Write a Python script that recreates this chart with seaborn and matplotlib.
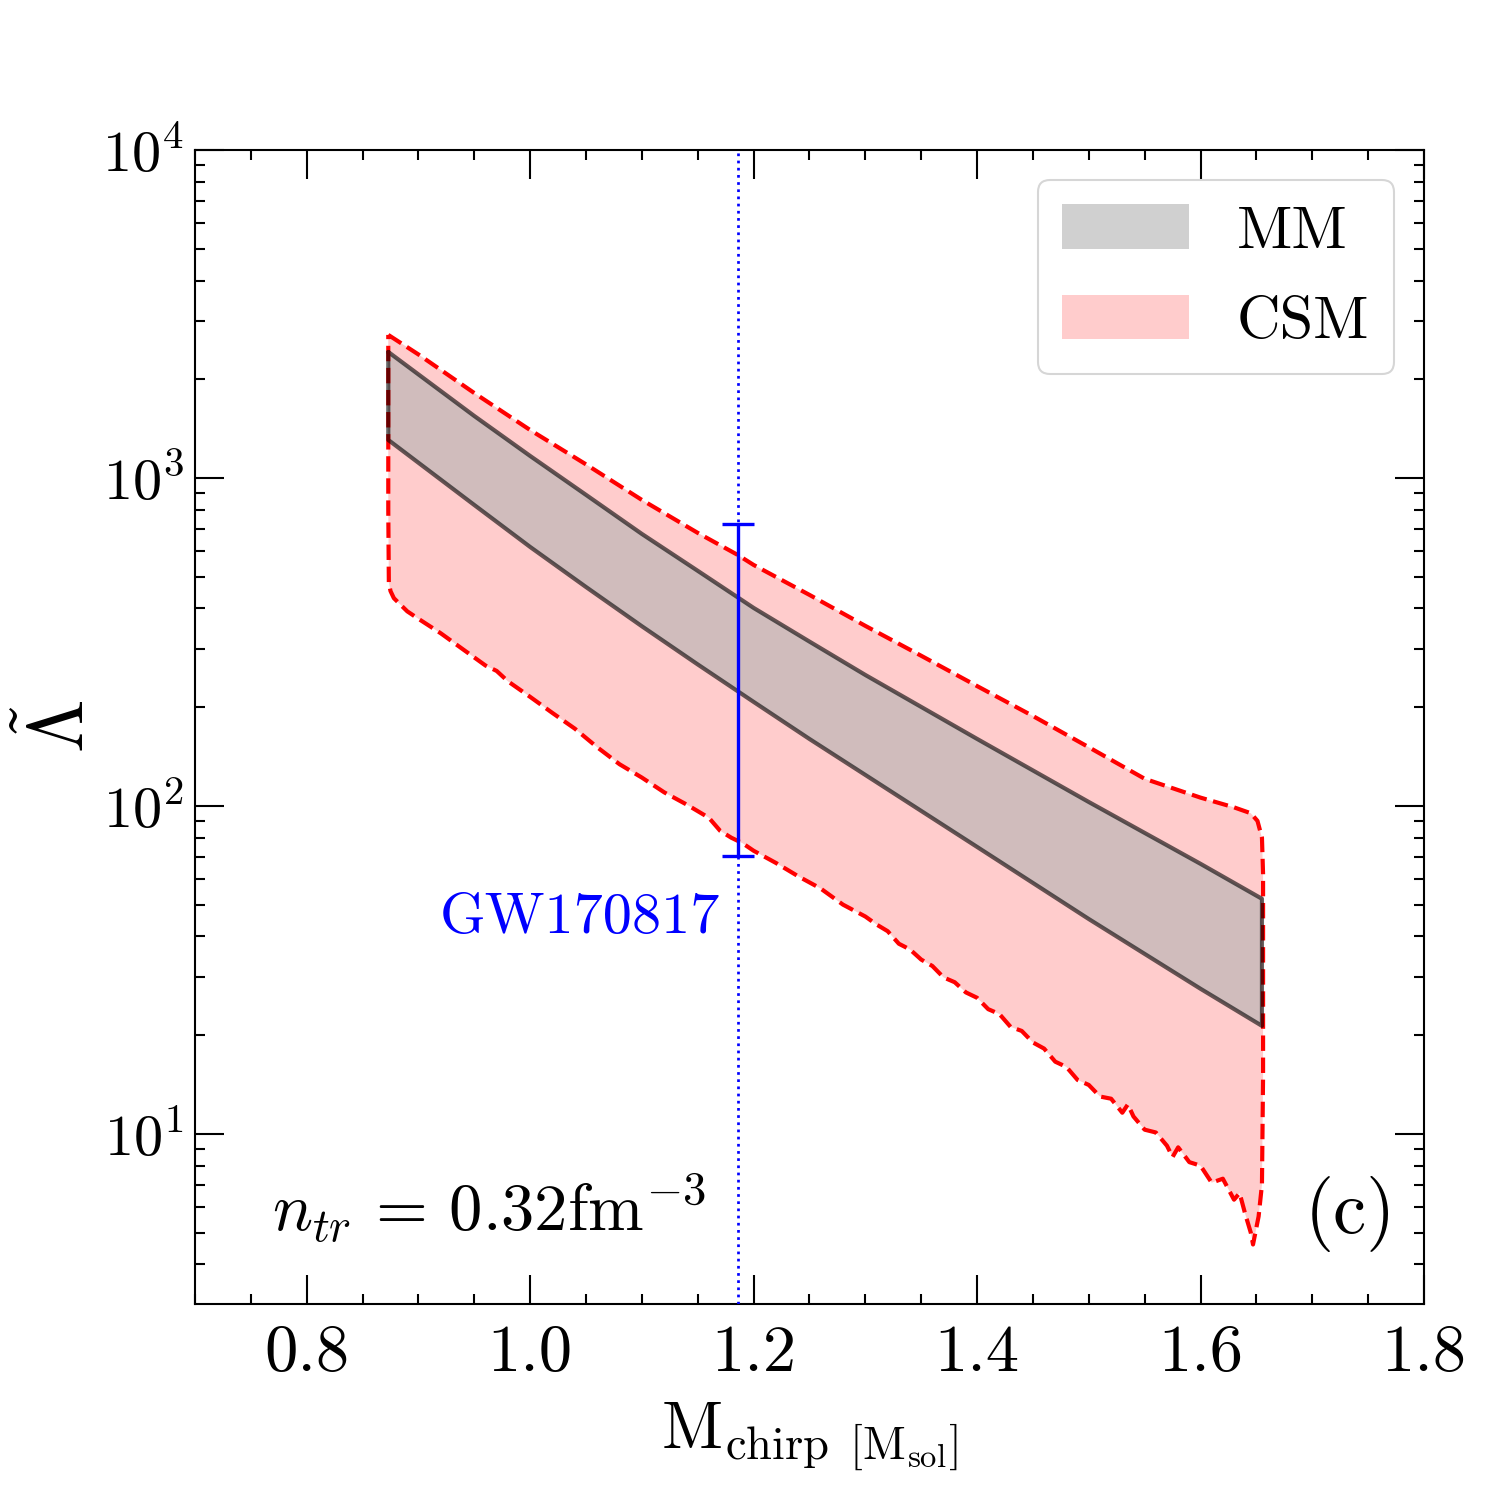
import numpy as np
import pandas as pd
import matplotlib
matplotlib.use("Agg")
import matplotlib.pyplot as plt
import seaborn as sns
from matplotlib.patches import Patch
from matplotlib.ticker import MultipleLocator, LogLocator, NullFormatter

# ---------------- data ----------------
mm_x = [0.873, 0.95, 1.0, 1.05, 1.1, 1.15, 1.2, 1.25, 1.3, 1.4, 1.5, 1.6, 1.655]
mm_upper = [2422, 1545, 1167, 888, 675, 521, 401.6, 317, 250.8, 160.1, 102.8, 66.6, 52.1]
mm_lower = [1306, 827, 616, 465, 353, 270, 207.6, 160, 124.3, 75, 45.2, 27.7, 21.35]

csm_upper_x = [0.873, 0.90, 0.95, 1.00, 1.05, 1.10, 1.15, 1.186, 1.20, 1.25, 1.30,
               1.35, 1.40, 1.45, 1.50, 1.55, 1.60, 1.63, 1.645, 1.651, 1.655, 1.656]
csm_upper_y = [2730, 2380, 1815, 1400, 1100, 857, 680, 582, 543, 440, 354,
               287, 232, 188, 151, 121, 106, 99, 95, 90, 80, 62]

csm_lower_x = [0.873, 0.8735, 0.875, 0.878, 0.89, 0.90, 0.92, 0.94, 0.96, 0.97, 0.98,
               1.00, 1.02, 1.04, 1.06, 1.08, 1.10, 1.12, 1.14, 1.16, 1.17, 1.18,
               1.19, 1.20, 1.22, 1.24, 1.26, 1.28, 1.30, 1.31, 1.32, 1.33, 1.34,
               1.35, 1.36, 1.37, 1.38, 1.39, 1.40, 1.41, 1.42, 1.43, 1.44, 1.45,
               1.46, 1.47, 1.48, 1.49, 1.50, 1.51, 1.52, 1.53, 1.535, 1.54, 1.55,
               1.56, 1.57, 1.575, 1.58, 1.59, 1.60, 1.61, 1.62, 1.63, 1.635, 1.64,
               1.645, 1.647, 1.652, 1.655, 1.656]
csm_lower_y = [800, 480, 452, 430, 392, 372, 336, 300, 268, 258, 240,
               215, 192, 172, 151, 134, 122, 110, 101, 92, 84, 80,
               77, 73, 67, 61, 56, 50, 46, 43.5, 41.5, 38, 36.5,
               34, 32.5, 30, 29, 27, 26, 24, 23.2, 21.2, 20.6, 19.0,
               18.2, 16.6, 16.0, 14.6, 14.1, 13.0, 12.8, 11.6, 12.3, 11.3, 10.3,
               10.1, 9.2, 8.5, 9.1, 8.2, 8.0, 7.1, 7.3, 6.3, 6.6, 5.7,
               5.0, 4.6, 5.6, 7.0, 15]

gw_x = 1.186
gw_low = 70.4
gw_high = 724
gw_center = 225

x_ticks = [0.8, 1.0, 1.2, 1.4, 1.6, 1.8]
x_tick_labels = ["0.8", "1.0", "1.2", "1.4", "1.6", "1.8"]

# ---------------- style ----------------
sns.set_theme(style="ticks")
plt.rcParams["font.family"] = ["cmr10", "DejaVu Serif"]
plt.rcParams["mathtext.fontset"] = "cm"
plt.rcParams["axes.formatter.use_mathtext"] = True
plt.rcParams["axes.unicode_minus"] = False
for k in ["text.color", "axes.labelcolor", "xtick.color", "ytick.color",
          "axes.edgecolor", "xtick.labelcolor", "ytick.labelcolor"]:
    plt.rcParams[k] = "black"

fig = plt.figure(figsize=(10, 10), dpi=150)
ax = fig.add_axes([0.13, 0.1307, 0.8193, 0.7693])

# CSM polygon (upper left->right, lower right->left)
poly_x = list(csm_upper_x) + list(csm_lower_x[::-1])
poly_y = list(csm_upper_y) + list(csm_lower_y[::-1])
poly_x.append(poly_x[0])
poly_y.append(poly_y[0])
ax.fill(poly_x, poly_y, color=(1.0, 0.8, 0.8), lw=0, zorder=1)
csm_df = pd.DataFrame({"x": poly_x, "y": poly_y})
sns.lineplot(data=csm_df, x="x", y="y", sort=False, estimator=None, ax=ax,
             color="red", linestyle="--", lw=2.0, zorder=3)

# MM polygon
mm_px = list(mm_x) + list(mm_x[::-1]) + [mm_x[0]]
mm_py = list(mm_upper) + list(mm_lower[::-1]) + [mm_upper[0]]
ax.fill(mm_px, mm_py, color="#b2b2b2", alpha=0.61, lw=0, zorder=2)
mm_df = pd.DataFrame({"x": mm_px, "y": mm_py})
sns.lineplot(data=mm_df, x="x", y="y", sort=False, estimator=None, ax=ax,
             color="black", alpha=0.6, lw=2.0, zorder=4)

# GW170817
ax.axvline(gw_x, color="blue", ls=":", lw=1.3, zorder=5)
ax.errorbar([gw_x], [gw_center], yerr=[[gw_center - gw_low], [gw_high - gw_center]],
            fmt="none", ecolor="blue", elinewidth=1.6, capsize=7.5, capthick=1.6, zorder=6)
ax.text(1.17, 45.5, "GW170817", color="blue", fontsize=28, ha="right", va="center")

ax.text(0.063, 0.083, r"$n_{tr}\, =\, 0.32\mathrm{fm}^{-3}$", transform=ax.transAxes,
        fontsize=32, ha="left", va="center")
ax.text(0.977, 0.078, "(c)", transform=ax.transAxes, fontsize=36, ha="right", va="center")

# axes
ax.set_yscale("log")
ax.set_xlim(0.7, 1.8)
ax.set_ylim(3.03, 1e4)
ax.set_xticks(x_ticks)
ax.set_xticklabels(x_tick_labels)
ax.xaxis.set_minor_locator(MultipleLocator(0.05))
ax.yaxis.set_major_locator(LogLocator(base=10, numticks=10))
ax.yaxis.set_minor_locator(LogLocator(base=10, subs=np.arange(2, 10), numticks=20))
ax.yaxis.set_minor_formatter(NullFormatter())
ax.tick_params(which="both", direction="in", top=True, right=True)
ax.tick_params(axis="x", labelsize=32, pad=10)
ax.tick_params(axis="y", labelsize=28, pad=5)
ax.tick_params(which="major", length=14, width=1.0)
ax.tick_params(which="minor", length=5, width=1.0)
for s in ax.spines.values():
    s.set_linewidth(1.0)
    s.set_color("black")

ax.set_xlabel(r"$\mathrm{M_{chirp\ \,[M_{sol}]}}$", fontsize=32, labelpad=8)
ax.set_ylabel(r"$\tilde{\Lambda}$", fontsize=37)
ax.yaxis.set_label_coords(-0.078, 0.5)

handles = [Patch(facecolor="#b2b2b2", alpha=0.61, edgecolor="none", label="MM"),
           Patch(facecolor=(1.0, 0.8, 0.8), edgecolor="none", label="CSM")]
leg = ax.legend(handles=handles, loc="upper right", fontsize=29, handlelength=2.1,
                handleheight=0.75, handletextpad=0.8, labelspacing=0.58,
                frameon=True, fancybox=True, borderpad=0.4)
leg.get_frame().set_edgecolor("#cccccc")

fig.savefig("out.png", dpi=150)
